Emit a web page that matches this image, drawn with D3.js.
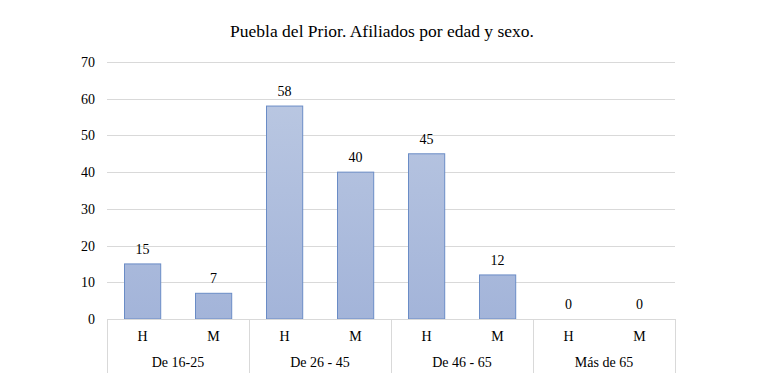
<!DOCTYPE html>
<html><head><meta charset="utf-8">
<script src="https://cdn.jsdelivr.net/npm/d3@7"></script>
<style>body{margin:0;background:#fff;} svg{display:block;}</style>
</head><body>
<svg id="c" width="765" height="382"></svg>
<script>
const groups = ["De 16-25", "De 26 - 45", "De 46 - 65", "Más de 65"];
const sexes = ["H", "M"];
const values = [15, 7, 58, 40, 45, 12, 0, 0];
const yTicks = [0, 10, 20, 30, 40, 50, 60, 70];
const title = "Puebla del Prior. Afiliados por edad y sexo.";

const font = "'Liberation Serif', 'DejaVu Serif', serif";
const svg = d3.select("#c");
const L = 107, R = 675, T = 62, B = 319;

const cats = [];
groups.forEach((g, gi) => sexes.forEach((s, si) => cats.push({key: gi + "-" + s, g, s})));
const data = cats.map((c, i) => ({...c, v: values[i]}));

const x = d3.scaleBand().domain(cats.map(c => c.key)).range([L, R]).paddingInner(0.49).paddingOuter(0.245);
const xg = d3.scaleBand().domain(groups).range([L, R]);
const y = d3.scaleLinear().domain([0, 70]).range([B, T]);

const defs = svg.append("defs");
const grad = defs.append("linearGradient").attr("id", "g").attr("x1", 0).attr("x2", 0).attr("gradientUnits", "userSpaceOnUse")
  .attr("y1", T).attr("y2", B);
grad.append("stop").attr("offset", 0).attr("stop-color", "#bdcae3");
grad.append("stop").attr("offset", 1).attr("stop-color", "#a3b4d9");

svg.append("text").attr("x", 382).attr("y", 37).attr("text-anchor", "middle")
  .attr("font-family", font).attr("font-size", 17.5).attr("fill", "#000").text(title);

// grid
svg.append("g").selectAll("line").data(yTicks.filter(t => t > 0)).join("line")
  .attr("x1", L).attr("x2", R).attr("y1", d => Math.round(y(d)) + 0.5).attr("y2", d => Math.round(y(d)) + 0.5)
  .attr("stroke", "#d9d9d9").attr("stroke-width", 1);

// y axis labels
const ya = svg.append("g").attr("transform", `translate(${L},0)`)
  .call(d3.axisLeft(y).tickValues(yTicks).tickSize(0).tickPadding(12));
ya.select(".domain").remove();
ya.selectAll("text").attr("font-family", font).attr("font-size", 14).attr("fill", "#000");

// bars
svg.append("g").selectAll("rect").data(data.filter(d => d.v > 0)).join("rect")
  .attr("x", d => Math.round(x(d.key)) + 0.5).attr("width", x.bandwidth())
  .attr("y", d => y(d.v)).attr("height", d => B - y(d.v))
  .attr("fill", "url(#g)").attr("stroke", "#6a8cc6").attr("stroke-width", 1);

// value labels
svg.append("g").selectAll("text").data(data).join("text")
  .attr("x", d => x(d.key) + x.bandwidth() / 2).attr("y", d => y(d.v) - 10)
  .attr("text-anchor", "middle").attr("font-family", font).attr("font-size", 14).attr("fill", "#000")
  .text(d => d.v);

// x axis baseline
svg.append("line").attr("x1", L).attr("x2", R).attr("y1", B + 0.5).attr("y2", B + 0.5)
  .attr("stroke", "#d9d9d9");

// group separators
const seps = groups.map(g => xg(g)).concat([R]);
svg.append("g").selectAll("line").data(seps).join("line")
  .attr("x1", d => Math.round(d) + 0.5).attr("x2", d => Math.round(d) + 0.5)
  .attr("y1", B).attr("y2", 373).attr("stroke", "#d9d9d9");

// sub labels
svg.append("g").selectAll("text").data(data).join("text")
  .attr("x", d => x(d.key) + x.bandwidth() / 2).attr("y", 341)
  .attr("text-anchor", "middle").attr("font-family", font).attr("font-size", 14).attr("fill", "#000")
  .text(d => d.s);

// group labels
svg.append("g").selectAll("text").data(groups).join("text")
  .attr("x", d => xg(d) + xg.bandwidth() / 2).attr("y", 367)
  .attr("text-anchor", "middle").attr("font-family", font).attr("font-size", 14).attr("fill", "#000")
  .text(d => d);
</script>
</body></html>
